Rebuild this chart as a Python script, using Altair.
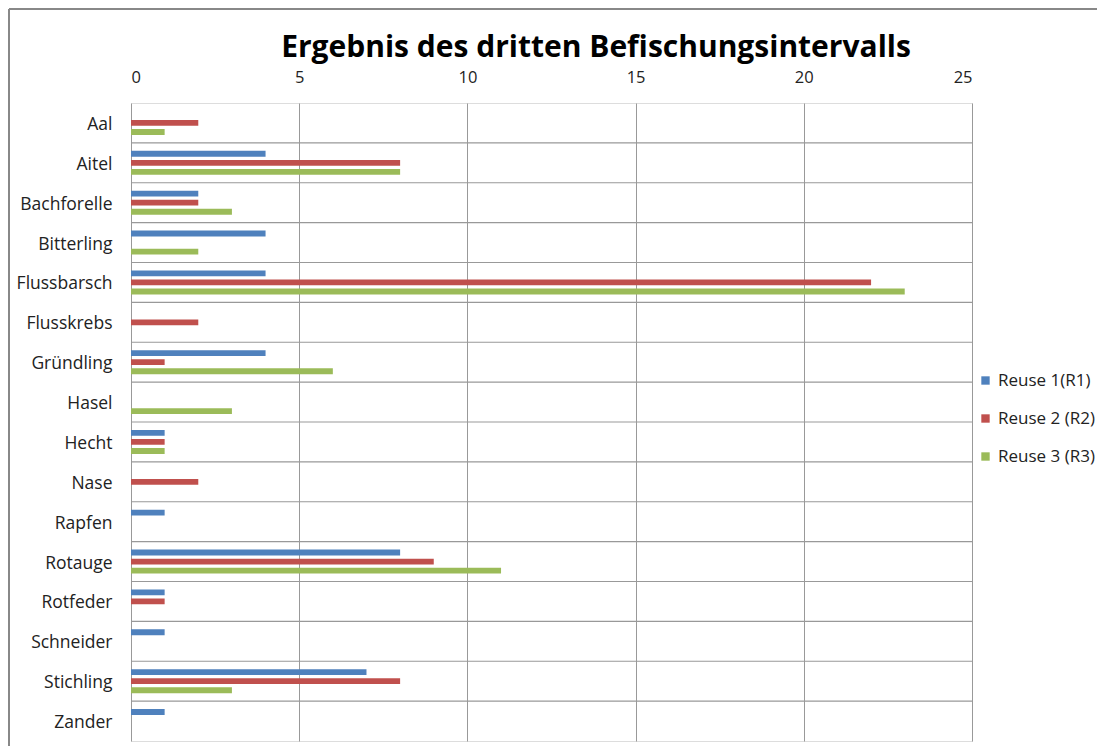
import altair as alt
import pandas as pd

species = ["Aal", "Aitel", "Bachforelle", "Bitterling", "Flussbarsch", "Flusskrebs",
           "Gründling", "Hasel", "Hecht", "Nase", "Rapfen", "Rotauge", "Rotfeder",
           "Schneider", "Stichling", "Zander"]
series = ["Reuse 1(R1)", "Reuse 2 (R2)", "Reuse 3 (R3)"]
r1 = [0, 4, 2, 4, 4, 0, 4, 0, 1, 0, 1, 8, 1, 1, 7, 1]
r2 = [2, 8, 2, 0, 22, 2, 1, 0, 1, 2, 0, 9, 1, 0, 8, 0]
r3 = [1, 8, 3, 2, 23, 0, 6, 3, 1, 0, 0, 11, 0, 0, 3, 0]
colors = ["#4F81BD", "#C0504D", "#9BBB59"]
x_ticks = [0, 5, 10, 15, 20, 25]
title = "Ergebnis des dritten Befischungsintervalls"

rows = []
for s, vals in zip(series, [r1, r2, r3]):
    for sp, v in zip(species, vals):
        rows.append({"Art": sp, "Reuse": s, "Anzahl": v})
df = pd.DataFrame(rows)
cats = pd.DataFrame({"Art": species[1:]})

FONT = "Open Sans"
W, H = 841, 638

bars = alt.Chart(df).transform_filter("datum.Anzahl > 0").mark_bar().encode(
    x=alt.X("Anzahl:Q",
            scale=alt.Scale(domain=[0, 25], nice=False),
            axis=alt.Axis(orient="top", values=x_ticks, title=None, domain=False,
                          ticks=False, labelPadding=18, labelFontSize=16.5,
                          labelFont=FONT, labelColor="#222", gridColor="#999",
                          gridWidth=1)),
    y=alt.Y("Art:N", sort=species,
            scale=alt.Scale(paddingInner=0.4, paddingOuter=0.2),
            axis=alt.Axis(title=None, domain=False, ticks=False, grid=False,
                          labelPadding=19, labelFontSize=17.5, labelFont=FONT,
                          labelColor="#222", labelOffset=2)),
    yOffset=alt.YOffset("Reuse:N", sort=series,
                        scale=alt.Scale(paddingInner=0.35, paddingOuter=0)),
    color=alt.Color("Reuse:N", sort=series,
                    scale=alt.Scale(domain=series, range=colors),
                    legend=alt.Legend(title=None, orient="none", legendX=846,
                                      legendY=269, symbolType="square",
                                      symbolSize=70, symbolStrokeWidth=0,
                                      labelFontSize=17, labelFont=FONT,
                                      labelColor="#222", rowPadding=20,
                                      labelOffset=4)),
)

separators = alt.Chart(cats).mark_rule(color="#999", strokeWidth=1.2).encode(
    y=alt.Y("Art:N", sort=species[1:], bandPosition=0,
            scale=alt.Scale(domain=species, padding=0), axis=None),
    x=alt.value(0), x2=alt.value(W),
)

one = pd.DataFrame({"t": [title]})
title_mark = alt.Chart(one).mark_text(
    font=FONT, fontSize=30, fontWeight="bold", color="#000", baseline="alphabetic",
    align="center"
).encode(x=alt.value(465), y=alt.value(-46), text="t:N")

frame_top = alt.Chart(one).mark_rule(color="#888", strokeWidth=2).encode(
    x=alt.value(-122), x2=alt.value(966), y=alt.value(-94))
frame_left = alt.Chart(one).mark_rule(color="#888", strokeWidth=2).encode(
    x=alt.value(-122), y=alt.value(-94), y2=alt.value(650))

chart = alt.layer(separators, bars, title_mark, frame_top, frame_left).resolve_scale(
    y="independent"
).properties(
    width=W, height=H,
    autosize=alt.AutoSizeParams(type="none"),
    padding={"left": 123, "top": 95, "right": 125, "bottom": 5},
).configure_view(stroke="#888", strokeWidth=1.2).configure(background="white")

chart.save("out.html", embed_options={"renderer": "svg", "actions": False})
